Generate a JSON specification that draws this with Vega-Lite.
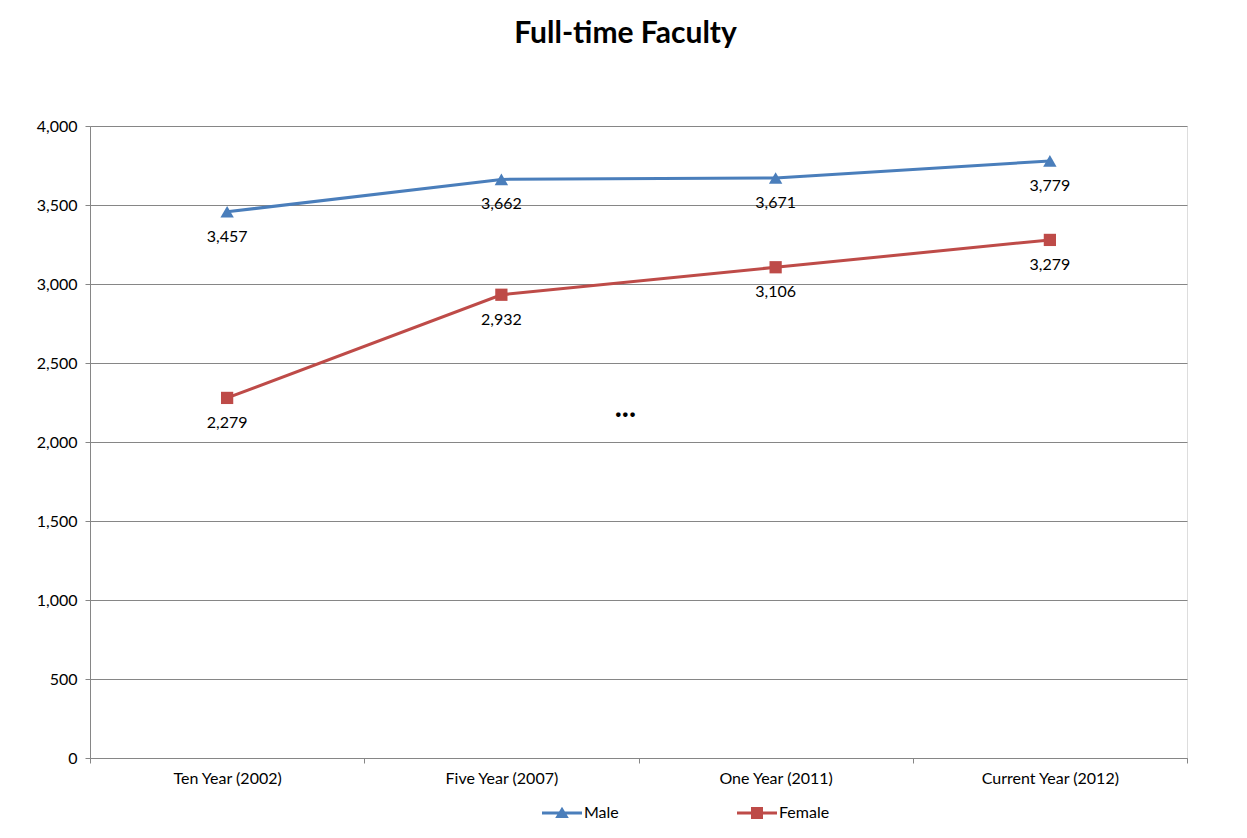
{
  "$schema": "https://vega.github.io/schema/vega-lite/v6.json",
  "width": 1097,
  "height": 632,
  "autosize": "none",
  "padding": {"left": 90, "top": 126, "right": 60, "bottom": 80},
  "background": "white",
  "title": {"text": "Full-time Faculty", "fontSize": 30, "font": "Lato", "fontWeight": "bold", "color": "#000000", "anchor": "middle", "offset": 69, "dx": -13},
  "datasets": {
    "faculty": [
      {"period": "Ten Year (2002)", "series": "Male", "value": 3457},
      {"period": "Five Year (2007)", "series": "Male", "value": 3662},
      {"period": "One Year (2011)", "series": "Male", "value": 3671},
      {"period": "Current Year (2012)", "series": "Male", "value": 3779},
      {"period": "Ten Year (2002)", "series": "Female", "value": 2279},
      {"period": "Five Year (2007)", "series": "Female", "value": 2932},
      {"period": "One Year (2011)", "series": "Female", "value": 3106},
      {"period": "Current Year (2012)", "series": "Female", "value": 3279}
    ],
    "note": [
      {"period": "Five Year (2007)", "value": 2160, "label": "..."}
    ]
  },
  "data": {"name": "faculty"},
  "encoding": {
    "x": {
      "field": "period", "type": "nominal",
      "sort": ["Ten Year (2002)", "Five Year (2007)", "One Year (2011)", "Current Year (2012)"],
      "scale": {"type": "band", "paddingInner": 0, "paddingOuter": 0},
      "axis": {"title": null, "labelAngle": 0, "tickBand": "extent", "tickSize": 5, "labelPadding": 7, "domainColor": "#868686", "tickColor": "#868686", "labelColor": "#000000", "labelFont": "Lato", "labelFontSize": 16, "grid": false}
    },
    "y": {
      "field": "value", "type": "quantitative",
      "scale": {"domain": [0, 4000], "nice": false},
      "axis": {"title": null, "values": [0, 500, 1000, 1500, 2000, 2500, 3000, 3500, 4000], "format": ",.0f", "tickSize": 5, "labelPadding": 8, "domainColor": "#868686", "tickColor": "#868686", "gridColor": "#868686", "gridWidth": 1, "labelColor": "#000000", "labelFont": "Lato", "labelFontSize": 16}
    }
  },
  "layer": [
    {
      "mark": {"type": "line", "strokeWidth": 3},
      "encoding": {
        "color": {
          "field": "series", "type": "nominal",
          "scale": {"domain": ["Male", "Female"], "range": ["#4A7EBB", "#BE4B48"]},
          "legend": {
            "title": null, "orient": "none", "legendX": 462, "legendY": 677,
            "direction": "horizontal", "symbolSize": 400, "labelOffset": 12,
            "columnPadding": 118, "padding": 0,
            "labelFont": "Lato", "labelFontSize": 16, "labelColor": "#000000",
            "encode": {
              "symbols": {
                "enter": {
                  "shape": {"signal": "datum.value === 'Male' ? 'M-2,-0.14L2,-0.14L2,0.14L-2,0.14Z M0,-0.62L0.68,0.5L-0.68,0.5Z' : 'M-2,-0.14L2,-0.14L2,0.14L-2,0.14Z M-0.6,-0.6L0.6,-0.6L0.6,0.6L-0.6,0.6Z'"}
                },
                "update": {
                  "shape": {"signal": "datum.value === 'Male' ? 'M-2,-0.14L2,-0.14L2,0.14L-2,0.14Z M0,-0.62L0.68,0.5L-0.68,0.5Z' : 'M-2,-0.14L2,-0.14L2,0.14L-2,0.14Z M-0.6,-0.6L0.6,-0.6L0.6,0.6L-0.6,0.6Z'"},
                  "fill": {"signal": "datum.value === 'Male' ? '#4A7EBB' : '#BE4B48'"},
                  "stroke": {"value": "transparent"},
                  "strokeWidth": {"value": 0},
                  "opacity": {"value": 1}
                }
              }
            }
          }
        }
      }
    },
    {
      "transform": [{"filter": "datum.series === 'Male'"}],
      "mark": {"type": "point", "shape": "triangle-up", "filled": true, "size": 180, "opacity": 1, "color": "#4A7EBB"}
    },
    {
      "transform": [{"filter": "datum.series === 'Female'"}],
      "mark": {"type": "point", "shape": "square", "filled": true, "size": 150, "opacity": 1, "color": "#BE4B48"}
    },
    {
      "mark": {"type": "text", "dy": 25, "font": "Lato", "fontSize": 16, "color": "#000000", "baseline": "middle"},
      "encoding": {
        "text": {"field": "value", "type": "quantitative", "format": ",.0f"}
      }
    },
    {
      "data": {"name": "note"},
      "mark": {"type": "text", "dx": 124, "font": "Lato", "fontSize": 30, "fontWeight": "bold", "color": "#000000", "baseline": "alphabetic"},
      "encoding": {
        "text": {"field": "label", "type": "nominal"}
      }
    }
  ]
}
